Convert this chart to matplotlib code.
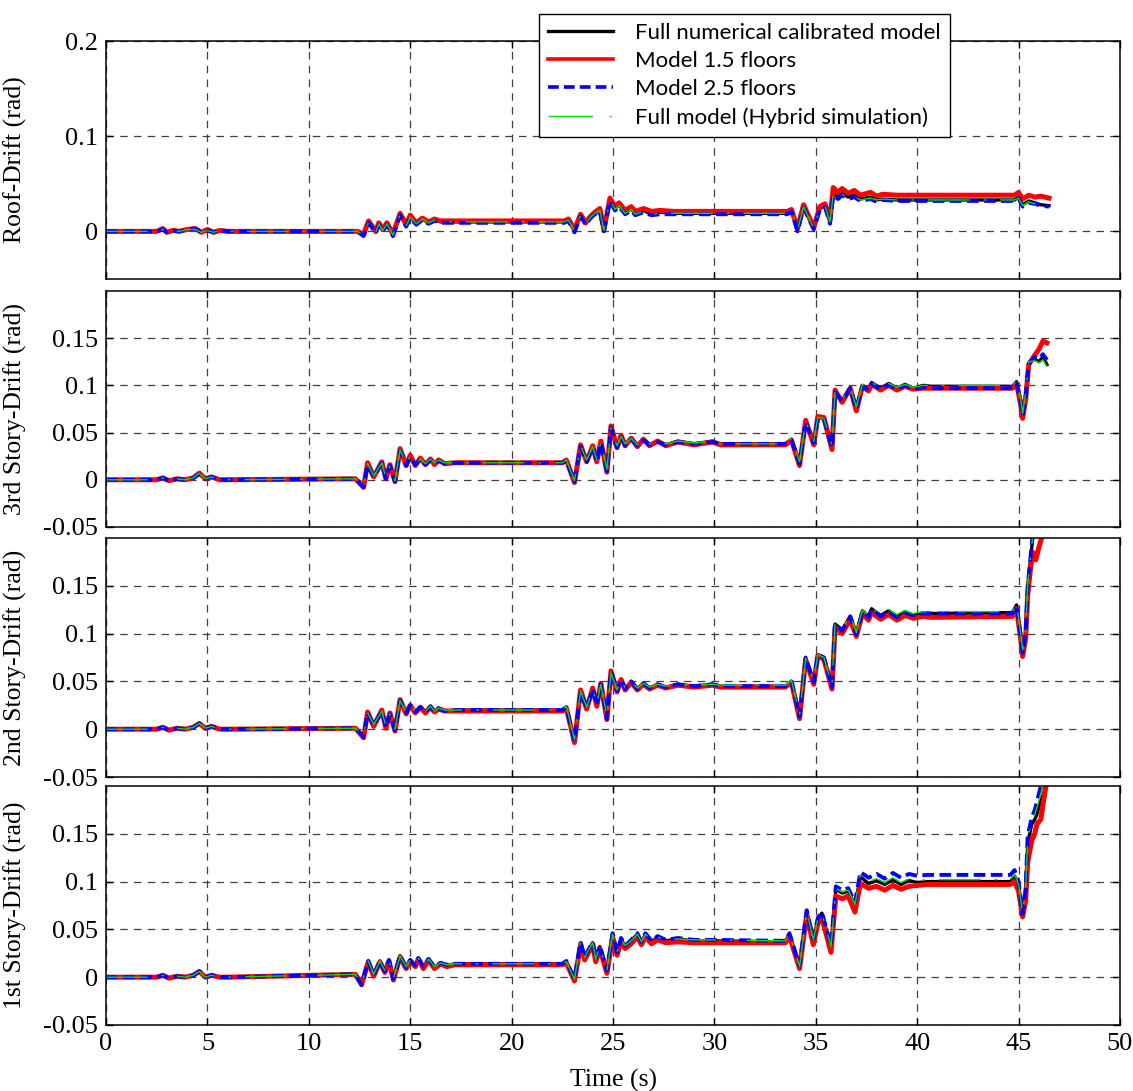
import numpy as np
import matplotlib
matplotlib.use("Agg")
import matplotlib.pyplot as plt
from matplotlib.lines import Line2D

plt.rcParams["axes.unicode_minus"] = False

# ---- data ----
# Roof drift
t_roof = [0, 2.5, 2.8, 3.0, 3.3, 3.6, 4.0, 4.4, 4.7, 5.0, 5.3, 5.6, 6.0,
          12.4, 12.7, 12.95, 13.3, 13.45, 13.65, 13.85, 14.15, 14.5, 14.8, 15.0, 15.3, 15.6, 15.9, 16.2, 16.5, 17.0,
          22.6, 22.8, 23.1, 23.4, 23.65, 23.9, 24.1, 24.35, 24.55, 24.85, 25.1, 25.3, 25.6, 25.9, 26.1, 26.5, 26.9, 27.3, 28.0,
          33.6, 33.8, 34.1, 34.4, 34.9, 35.2, 35.45, 35.7, 35.86, 36.1, 36.3, 36.6, 36.9, 37.2, 37.7, 38.0, 38.3, 39.0,
          44.8, 45.0, 45.2, 45.5, 45.8, 46.1, 46.5]
roof_full = [0, 0, 0.002, -0.001, 0.001, 0, 0.002, 0.003, -0.001, 0.001, -0.001, 0.001, 0,
             0, -0.004, 0.010, -0.001, 0.008, 0.001, 0.008, -0.004, 0.018, 0.006, 0.015, 0.008, 0.013, 0.009, 0.012, 0.010, 0.010,
             0.010, 0.012, 0.001, 0.017, 0.008, 0.015, 0.019, 0.022, 0.001, 0.033, 0.024, 0.028, 0.019, 0.024, 0.018, 0.022, 0.018, 0.020, 0.019,
             0.019, 0.022, 0.002, 0.026, 0.003, 0.024, 0.027, 0.010, 0.040, 0.036, 0.040, 0.036, 0.038, 0.034, 0.036, 0.033, 0.034, 0.033,
             0.033, 0.036, 0.028, 0.032, 0.030, 0.028, 0.027]
roof_m15 = [0, 0, 0.003, -0.001, 0.001, 0, 0.002, 0.003, -0.001, 0.002, -0.001, 0.001, 0,
            0, -0.003, 0.011, 0.000, 0.009, 0.002, 0.009, -0.003, 0.019, 0.007, 0.017, 0.009, 0.014, 0.010, 0.013, 0.011, 0.011,
            0.011, 0.013, 0.002, 0.018, 0.009, 0.016, 0.020, 0.024, 0.002, 0.035, 0.026, 0.030, 0.022, 0.026, 0.021, 0.024, 0.021, 0.022, 0.021,
            0.021, 0.023, 0.003, 0.028, 0.004, 0.026, 0.029, 0.012, 0.046, 0.041, 0.045, 0.040, 0.043, 0.038, 0.041, 0.037, 0.039, 0.038,
            0.038, 0.041, 0.034, 0.038, 0.036, 0.037, 0.035]
roof_m25 = [0, 0, 0.002, -0.001, 0.001, 0, 0.002, 0.003, -0.001, 0.001, -0.001, 0.001, 0,
            0, -0.005, 0.009, -0.002, 0.007, 0.000, 0.007, -0.005, 0.017, 0.005, 0.014, 0.007, 0.012, 0.008, 0.011, 0.009, 0.009,
            0.009, 0.011, -0.001, 0.016, 0.007, 0.014, 0.018, 0.021, 0.000, 0.032, 0.022, 0.026, 0.018, 0.022, 0.017, 0.020, 0.017, 0.018, 0.018,
            0.018, 0.021, 0.000, 0.025, 0.002, 0.023, 0.026, 0.008, 0.038, 0.034, 0.038, 0.034, 0.036, 0.032, 0.034, 0.031, 0.033, 0.032,
            0.032, 0.035, 0.026, 0.030, 0.029, 0.027, 0.026]
roof_hyb = [0, 0, 0.002, -0.001, 0.001, 0, 0.002, 0.002, -0.001, 0.001, -0.001, 0.001, 0,
            0, -0.004, 0.010, -0.001, 0.008, 0.001, 0.008, -0.004, 0.018, 0.006, 0.015, 0.008, 0.013, 0.009, 0.012, 0.010, 0.010,
            0.010, 0.012, 0.001, 0.017, 0.008, 0.015, 0.019, 0.022, 0.001, 0.033, 0.023, 0.027, 0.019, 0.023, 0.018, 0.021, 0.018, 0.019, 0.019,
            0.019, 0.022, 0.002, 0.026, 0.003, 0.024, 0.027, 0.010, 0.039, 0.035, 0.039, 0.035, 0.037, 0.033, 0.035, 0.033, 0.034, 0.033,
            0.033, 0.035, 0.027, 0.031, 0.029, 0.027, 0.025]

# 3rd story drift
t_s3 = [0, 2.5, 2.8, 3.1, 3.5, 3.9, 4.3, 4.6, 4.9, 5.2, 5.6, 6.0,
        12.3, 12.7, 12.9, 13.2, 13.6, 13.8, 14.0, 14.25, 14.5, 14.8, 15.0, 15.25, 15.5, 15.75, 16.0, 16.2, 16.4, 16.7, 17.2,
        22.5, 22.7, 23.1, 23.4, 23.7, 24.0, 24.2, 24.4, 24.7, 24.9, 25.2, 25.4, 25.6, 25.9, 26.2, 26.5, 26.8, 27.2, 27.6, 28.2, 29.0, 29.9, 30.3,
        33.5, 33.8, 34.2, 34.5, 34.9, 35.1, 35.4, 35.8, 35.95, 36.3, 36.7, 37.0, 37.3, 37.6, 37.75, 38.2, 38.6, 39.0, 39.4, 39.8, 40.3, 40.7,
        44.7, 44.9, 45.1, 45.2, 45.35, 45.5, 45.8, 46.0, 46.2, 46.4]
s3_full = [0, 0, 0.002, -0.001, 0.001, 0.000, 0.002, 0.007, 0.001, 0.003, 0.000, 0,
           0.001, -0.007, 0.017, 0.004, 0.018, 0.002, 0.015, -0.001, 0.032, 0.016, 0.025, 0.016, 0.022, 0.017, 0.022, 0.017, 0.021, 0.017, 0.018,
           0.018, 0.021, -0.002, 0.036, 0.020, 0.035, 0.020, 0.040, 0.010, 0.056, 0.035, 0.046, 0.037, 0.044, 0.036, 0.043, 0.037, 0.041, 0.037, 0.041, 0.038, 0.041, 0.038,
           0.038, 0.043, 0.018, 0.062, 0.040, 0.066, 0.065, 0.035, 0.094, 0.084, 0.098, 0.076, 0.100, 0.096, 0.103, 0.097, 0.102, 0.097, 0.101, 0.097, 0.100, 0.099,
           0.099, 0.104, 0.085, 0.069, 0.090, 0.124, 0.128, 0.125, 0.130, 0.122]
s3_m15 = [0, 0, 0.002, -0.001, 0.001, 0.000, 0.002, 0.007, 0.001, 0.003, 0.000, 0,
          0.001, -0.008, 0.018, 0.003, 0.019, 0.001, 0.016, -0.002, 0.033, 0.015, 0.026, 0.015, 0.023, 0.016, 0.022, 0.016, 0.021, 0.017, 0.018,
          0.018, 0.021, -0.003, 0.037, 0.019, 0.036, 0.019, 0.041, 0.008, 0.057, 0.034, 0.047, 0.036, 0.044, 0.035, 0.043, 0.036, 0.041, 0.036, 0.040, 0.037, 0.040, 0.037,
          0.037, 0.042, 0.015, 0.063, 0.037, 0.067, 0.066, 0.032, 0.095, 0.082, 0.097, 0.073, 0.099, 0.094, 0.101, 0.095, 0.100, 0.095, 0.099, 0.096, 0.097, 0.097,
          0.097, 0.102, 0.080, 0.065, 0.085, 0.122, 0.132, 0.138, 0.147, 0.145]
s3_m25 = [0, 0, 0.002, -0.001, 0.001, 0.000, 0.002, 0.006, 0.001, 0.003, 0.000, 0,
          0.001, -0.008, 0.016, 0.003, 0.018, 0.001, 0.015, -0.002, 0.031, 0.015, 0.024, 0.016, 0.022, 0.016, 0.021, 0.017, 0.020, 0.017, 0.018,
          0.018, 0.020, -0.002, 0.035, 0.019, 0.034, 0.019, 0.039, 0.009, 0.055, 0.034, 0.045, 0.036, 0.043, 0.036, 0.042, 0.037, 0.040, 0.037, 0.040, 0.038, 0.040, 0.038,
          0.038, 0.042, 0.017, 0.061, 0.039, 0.065, 0.064, 0.034, 0.093, 0.083, 0.097, 0.075, 0.099, 0.095, 0.102, 0.096, 0.101, 0.096, 0.100, 0.096, 0.098, 0.097,
          0.097, 0.102, 0.083, 0.068, 0.088, 0.123, 0.130, 0.128, 0.133, 0.127]
s3_hyb = [0, 0, 0.002, -0.001, 0.001, 0.000, 0.002, 0.007, 0.001, 0.003, 0.000, 0,
          0.001, -0.007, 0.017, 0.004, 0.018, 0.002, 0.015, -0.001, 0.032, 0.016, 0.025, 0.017, 0.022, 0.017, 0.022, 0.018, 0.021, 0.018, 0.018,
          0.018, 0.021, -0.001, 0.036, 0.021, 0.035, 0.021, 0.040, 0.011, 0.055, 0.036, 0.046, 0.038, 0.044, 0.037, 0.043, 0.038, 0.041, 0.038, 0.041, 0.039, 0.041, 0.038,
          0.038, 0.044, 0.019, 0.062, 0.041, 0.066, 0.065, 0.036, 0.094, 0.085, 0.098, 0.077, 0.101, 0.097, 0.103, 0.098, 0.102, 0.098, 0.101, 0.098, 0.100, 0.100,
          0.100, 0.105, 0.086, 0.070, 0.092, 0.125, 0.126, 0.124, 0.127, 0.120]

# 2nd story drift
t_s2 = [0, 2.5, 2.8, 3.1, 3.5, 3.9, 4.3, 4.6, 4.9, 5.2, 5.6, 6.0,
        12.3, 12.7, 12.9, 13.2, 13.6, 13.8, 14.0, 14.25, 14.5, 14.8, 15.0, 15.25, 15.5, 15.75, 16.0, 16.2, 16.4, 16.7, 17.2,
        22.5, 22.7, 23.1, 23.4, 23.7, 24.0, 24.2, 24.4, 24.7, 24.9, 25.2, 25.4, 25.6, 25.9, 26.2, 26.5, 26.8, 27.2, 27.6, 28.2, 29.0, 29.9, 30.3,
        33.5, 33.8, 34.2, 34.5, 34.9, 35.1, 35.4, 35.8, 35.95, 36.3, 36.7, 37.0, 37.3, 37.6, 37.75, 38.2, 38.6, 39.0, 39.4, 39.8, 40.3, 40.7,
        44.7, 44.9, 45.1, 45.2, 45.35, 45.45, 45.6, 45.7, 45.85, 46.0, 46.2, 46.4]
s2_full = [0, 0, 0.002, -0.001, 0.001, 0.000, 0.002, 0.006, 0.001, 0.003, 0.000, 0,
           0.001, -0.008, 0.017, 0.004, 0.019, 0.002, 0.016, -0.001, 0.030, 0.017, 0.025, 0.018, 0.023, 0.018, 0.024, 0.018, 0.022, 0.019, 0.020,
           0.020, 0.023, -0.012, 0.040, 0.022, 0.042, 0.025, 0.047, 0.012, 0.060, 0.040, 0.052, 0.042, 0.050, 0.042, 0.048, 0.043, 0.047, 0.044, 0.047, 0.045, 0.047, 0.045,
           0.045, 0.050, 0.014, 0.074, 0.050, 0.078, 0.075, 0.045, 0.110, 0.104, 0.118, 0.100, 0.124, 0.118, 0.126, 0.119, 0.124, 0.118, 0.123, 0.119, 0.122, 0.121,
           0.122, 0.130, 0.100, 0.081, 0.100, 0.150, 0.180, 0.200, 0.210, 0.220, 0.230, 0.240]
s2_m15 = [0, 0, 0.002, -0.001, 0.001, 0.000, 0.002, 0.006, 0.001, 0.003, 0.000, 0,
          0.001, -0.009, 0.018, 0.003, 0.020, 0.001, 0.017, -0.002, 0.031, 0.016, 0.025, 0.017, 0.023, 0.017, 0.023, 0.018, 0.021, 0.019, 0.019,
          0.019, 0.022, -0.014, 0.041, 0.021, 0.043, 0.024, 0.048, 0.010, 0.061, 0.039, 0.052, 0.041, 0.049, 0.041, 0.047, 0.042, 0.046, 0.043, 0.046, 0.044, 0.046, 0.044,
          0.044, 0.049, 0.011, 0.073, 0.047, 0.077, 0.073, 0.042, 0.107, 0.100, 0.115, 0.097, 0.121, 0.114, 0.122, 0.115, 0.120, 0.114, 0.119, 0.116, 0.118, 0.117,
          0.118, 0.126, 0.095, 0.076, 0.095, 0.140, 0.170, 0.185, 0.177, 0.190, 0.205, 0.220]
s2_m25 = [0, 0, 0.002, -0.001, 0.001, 0.000, 0.002, 0.006, 0.001, 0.003, 0.000, 0,
          0.001, -0.008, 0.017, 0.004, 0.019, 0.002, 0.016, -0.001, 0.030, 0.017, 0.025, 0.018, 0.023, 0.018, 0.024, 0.018, 0.022, 0.019, 0.020,
          0.020, 0.023, -0.013, 0.040, 0.022, 0.042, 0.025, 0.047, 0.011, 0.060, 0.040, 0.052, 0.042, 0.050, 0.042, 0.048, 0.043, 0.047, 0.044, 0.047, 0.045, 0.047, 0.045,
          0.045, 0.050, 0.013, 0.075, 0.049, 0.078, 0.075, 0.044, 0.110, 0.103, 0.118, 0.099, 0.123, 0.117, 0.125, 0.118, 0.123, 0.117, 0.122, 0.119, 0.121, 0.121,
          0.121, 0.129, 0.098, 0.080, 0.100, 0.150, 0.182, 0.205, 0.215, 0.225, 0.235, 0.245]
s2_hyb = [0, 0, 0.002, -0.001, 0.001, 0.000, 0.002, 0.006, 0.001, 0.003, 0.000, 0,
          0.001, -0.007, 0.017, 0.005, 0.019, 0.003, 0.016, 0.000, 0.030, 0.018, 0.025, 0.019, 0.023, 0.019, 0.024, 0.019, 0.022, 0.020, 0.020,
          0.020, 0.024, -0.011, 0.040, 0.023, 0.042, 0.026, 0.047, 0.013, 0.059, 0.041, 0.052, 0.043, 0.050, 0.043, 0.048, 0.044, 0.047, 0.045, 0.047, 0.046, 0.047, 0.046,
          0.046, 0.051, 0.015, 0.074, 0.051, 0.078, 0.075, 0.046, 0.110, 0.105, 0.119, 0.101, 0.125, 0.119, 0.127, 0.120, 0.125, 0.120, 0.124, 0.121, 0.123, 0.123,
          0.123, 0.131, 0.101, 0.083, 0.103, 0.152, 0.182, 0.202, 0.212, 0.222, 0.232, 0.242]

# 1st story drift
t_s1 = [0, 2.5, 2.8, 3.1, 3.5, 3.9, 4.3, 4.6, 4.9, 5.2, 5.6, 6.0,
        12.3, 12.6, 12.93, 13.2, 13.5, 13.75, 13.95, 14.17, 14.5, 14.8, 15.0, 15.25, 15.4, 15.65, 15.9, 16.2, 16.5, 16.8, 17.2,
        22.5, 22.7, 23.1, 23.4, 23.6, 24.0, 24.15, 24.35, 24.7, 24.98, 25.2, 25.4, 25.6, 25.9, 26.2, 26.4, 26.6, 26.9, 27.2, 27.6, 28.2, 29.0, 30.0,
        33.5, 33.7, 34.2, 34.55, 34.88, 35.1, 35.3, 35.75, 35.99, 36.3, 36.6, 36.93, 37.2, 37.6, 38.0, 38.4, 38.8, 39.2, 39.6, 40.0, 40.5,
        44.6, 44.8, 45.0, 45.2, 45.35, 45.45, 45.65, 45.8, 45.9, 46.1, 46.2, 46.35, 46.5]
s1_full = [0, 0, 0.002, -0.001, 0.001, 0.000, 0.002, 0.006, 0.000, 0.002, 0.000, 0,
           0.003, -0.0075, 0.0165, 0.002, 0.017, 0.006, 0.018, -0.002, 0.0225, 0.010, 0.018, 0.012, 0.020, 0.010, 0.019, 0.010, 0.015, 0.012, 0.014,
           0.014, 0.016, -0.003, 0.036, 0.020, 0.036, 0.018, 0.032, 0.006, 0.045, 0.025, 0.040, 0.032, 0.038, 0.045, 0.036, 0.045, 0.037, 0.042, 0.038, 0.040, 0.038, 0.038,
           0.037, 0.045, 0.0105, 0.069, 0.038, 0.060, 0.067, 0.031, 0.092, 0.088, 0.090, 0.075, 0.105, 0.098, 0.101, 0.097, 0.102, 0.097, 0.101, 0.099, 0.100,
           0.100, 0.106, 0.095, 0.066, 0.090, 0.140, 0.160, 0.165, 0.170, 0.185, 0.190, 0.200, 0.215]
s1_m15 = [0, 0, 0.002, -0.001, 0.001, 0.000, 0.002, 0.006, 0.000, 0.002, 0.000, 0,
          0.003, -0.008, 0.016, 0.001, 0.016, 0.005, 0.017, -0.003, 0.021, 0.009, 0.017, 0.011, 0.019, 0.009, 0.018, 0.009, 0.014, 0.011, 0.013,
          0.013, 0.015, -0.004, 0.034, 0.018, 0.034, 0.016, 0.030, 0.004, 0.042, 0.023, 0.037, 0.030, 0.035, 0.042, 0.034, 0.042, 0.035, 0.039, 0.036, 0.037, 0.036, 0.036,
          0.036, 0.043, 0.009, 0.065, 0.034, 0.056, 0.062, 0.026, 0.085, 0.082, 0.085, 0.068, 0.098, 0.093, 0.095, 0.091, 0.096, 0.092, 0.095, 0.096, 0.097,
          0.097, 0.100, 0.090, 0.063, 0.080, 0.120, 0.143, 0.150, 0.160, 0.165, 0.180, 0.200, 0.215]
s1_m25 = [0, 0, 0.002, -0.001, 0.001, 0.000, 0.002, 0.006, 0.000, 0.002, 0.000, 0,
          0.003, -0.008, 0.017, 0.002, 0.017, 0.006, 0.018, -0.002, 0.023, 0.010, 0.018, 0.012, 0.020, 0.011, 0.019, 0.011, 0.015, 0.013, 0.014,
          0.014, 0.017, -0.002, 0.037, 0.021, 0.037, 0.019, 0.033, 0.007, 0.046, 0.026, 0.041, 0.033, 0.039, 0.046, 0.037, 0.046, 0.038, 0.043, 0.039, 0.041, 0.039, 0.039,
          0.038, 0.046, 0.012, 0.070, 0.040, 0.062, 0.068, 0.033, 0.095, 0.091, 0.093, 0.078, 0.110, 0.104, 0.108, 0.103, 0.109, 0.104, 0.108, 0.106, 0.107,
          0.107, 0.112, 0.100, 0.066, 0.092, 0.148, 0.167, 0.175, 0.183, 0.200, 0.210, 0.220, 0.230]
s1_hyb = [0, 0, 0.002, -0.001, 0.001, 0.000, 0.002, 0.006, 0.000, 0.002, 0.000, 0,
          0.003, -0.007, 0.017, 0.003, 0.017, 0.007, 0.018, -0.001, 0.022, 0.011, 0.018, 0.013, 0.020, 0.011, 0.019, 0.011, 0.015, 0.013, 0.014,
          0.014, 0.016, -0.002, 0.036, 0.021, 0.036, 0.019, 0.032, 0.007, 0.045, 0.026, 0.040, 0.033, 0.038, 0.045, 0.037, 0.045, 0.038, 0.042, 0.039, 0.040, 0.039, 0.039,
          0.038, 0.045, 0.011, 0.069, 0.039, 0.061, 0.067, 0.032, 0.093, 0.089, 0.091, 0.076, 0.107, 0.100, 0.103, 0.099, 0.104, 0.099, 0.103, 0.101, 0.102,
          0.102, 0.108, 0.097, 0.067, 0.093, 0.145, 0.163, 0.170, 0.177, 0.192, 0.200, 0.212, 0.225]

panels = [
    ("Roof-Drift (rad)", t_roof, roof_full, roof_m15, roof_m25, roof_hyb),
    ("3rd Story-Drift (rad)", t_s3, s3_full, s3_m15, s3_m25, s3_hyb),
    ("2nd Story-Drift (rad)", t_s2, s2_full, s2_m15, s2_m25, s2_hyb),
    ("1st Story-Drift (rad)", t_s1, s1_full, s1_m15, s1_m25, s1_hyb),
]
legend_labels = ["Full numerical calibrated model", "Model 1.5 floors",
                 "Model 2.5 floors", "Full model (Hybrid simulation)"]
x_ticks = [0, 5, 10, 15, 20, 25, 30, 35, 40, 45, 50]
roof_ticks = [0, 0.1, 0.2]
roof_ticklabels = ["0", "0.1", "0.2"]
story_ticks = [-0.05, 0, 0.05, 0.1, 0.15]
story_ticklabels = ["-0.05", "0", "0.05", "0.1", "0.15"]

# ---- styles ----
SERIF = "Liberation Serif"
styles = [
    dict(color="black", lw=2.4, ls="-"),
    dict(color="#ff0000", lw=3.6, ls="-"),
    dict(color="#0000ff", lw=2.8, ls=(0, (3, 1.4))),
    dict(color="#00e000", lw=1.0, ls=(0, (30, 10, 2, 10))),
]
grid_kw = dict(color="0.25", lw=0.9, ls=(0, (6, 5)))

fig = plt.figure(figsize=(11.33, 10.91), dpi=100)
left, width = 0.0936, 0.8949
boxes = [(0.7443, 0.2181), (0.5170, 0.2163), (0.2878, 0.2191), (0.0605, 0.2191)]

for i, ((lab, t, *series), (b, h)) in enumerate(zip(panels, boxes)):
    ax = fig.add_axes([left, b, width, h])
    for y, st in zip(series, styles):
        ax.plot(t, y, color=st["color"], lw=st["lw"], ls=st["ls"],
                solid_joinstyle="round", dash_joinstyle="round")
    ax.set_xlim(0, 50)
    ax.set_ylim(-0.05, 0.2)
    ax.set_xticks(x_ticks)
    if i == 0:
        ax.set_yticks(roof_ticks)
        ax.set_yticklabels(roof_ticklabels)
    else:
        ax.set_yticks(story_ticks)
        ax.set_yticklabels(story_ticklabels)
    if i == 3:
        ax.set_xticklabels([str(v) for v in x_ticks])
        ax.set_xlabel("Time (s)", fontsize=18.5, family=SERIF, labelpad=10)
    else:
        ax.set_xticklabels([])
    ax.grid(True, **grid_kw)
    ax.tick_params(direction="in", top=True, right=True, length=5, width=1,
                   labelsize=19, pad=6)
    for tl in ax.get_xticklabels() + ax.get_yticklabels():
        tl.set_family(SERIF)
    for s in ax.spines.values():
        s.set_linewidth(1.1)
    ax.set_ylabel(lab, fontsize=18.5, family=SERIF)
    ax.yaxis.set_label_coords(-0.078, 0.5)

handles = [Line2D([], [], color="black", lw=2.4),
           Line2D([], [], color="#ff0000", lw=2.6),
           Line2D([], [], color="#0000ff", lw=2.6, ls=(0, (3, 1.4))),
           Line2D([], [], color="#00e000", lw=1.0, ls=(0, (32, 12, 1.5, 12)))]
leg = fig.legend(handles, legend_labels, loc="lower left",
                 bbox_to_anchor=(0.4757, 0.8744), fancybox=False, framealpha=1,
                 edgecolor="black", prop=dict(family="Lato", size=16),
                 handlelength=2.9, handletextpad=1.0, labelspacing=0.36,
                 borderpad=0.42, borderaxespad=0)
leg.get_frame().set_linewidth(1.0)

fig.savefig("out.png", dpi=100)
